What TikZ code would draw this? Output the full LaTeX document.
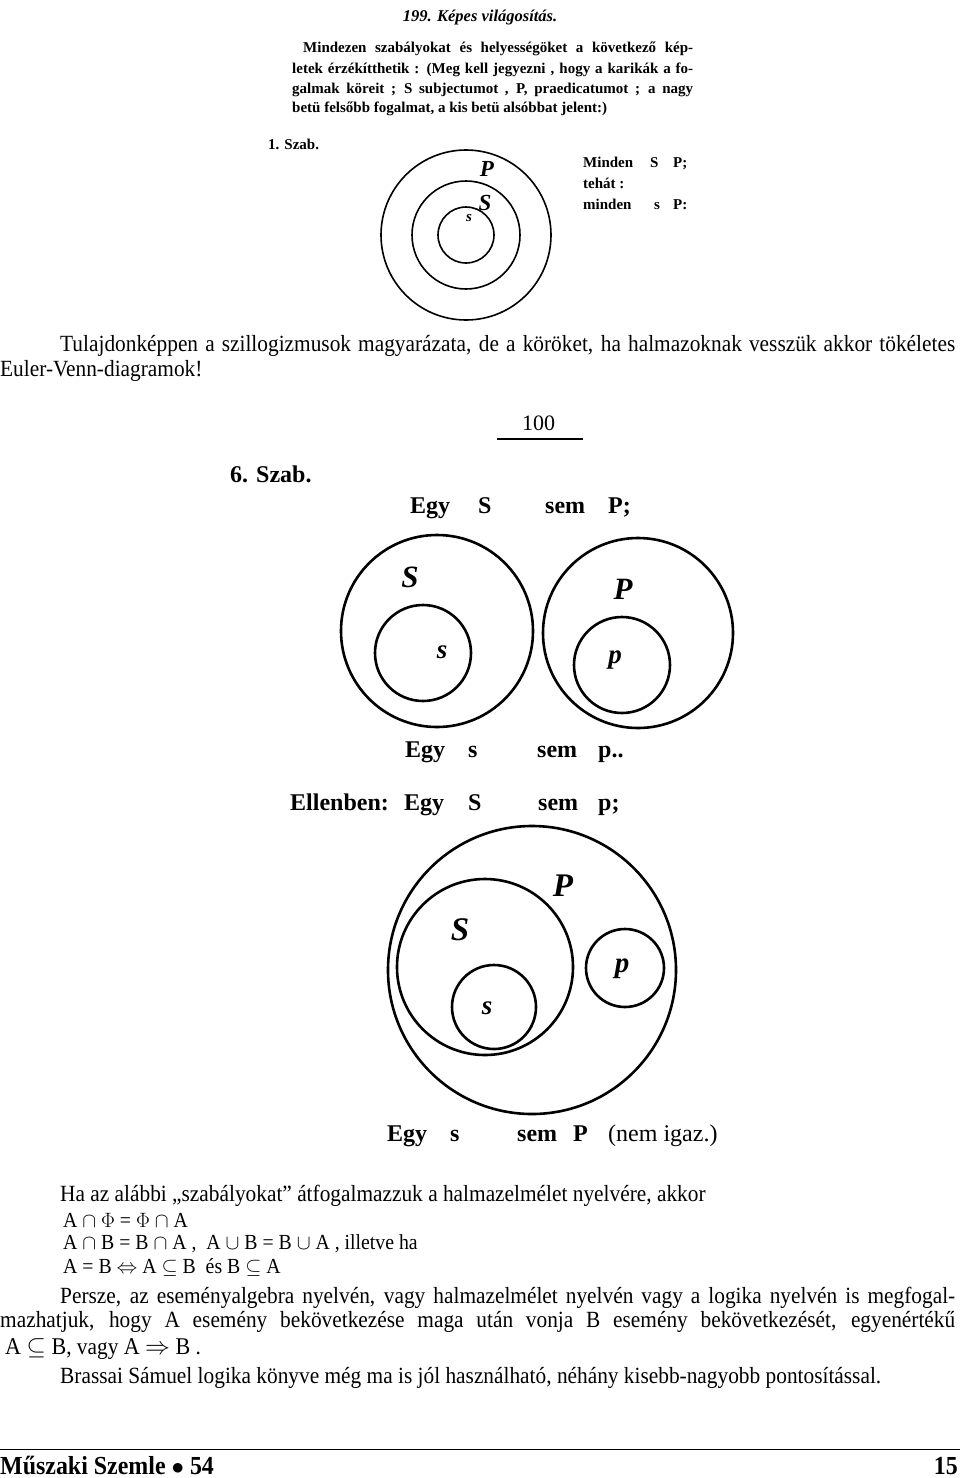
\documentclass[tikz,border=0pt]{standalone}
\usepackage{fontspec}
\setmainfont{Liberation Serif}
\newfontfamily\narrowfont[FakeStretch=0.92]{Liberation Serif}
\usetikzlibrary{positioning}

\begin{document}
\begin{tikzpicture}
  [x=1pt,y=-1pt,
   ring/.style={draw, circle, inner sep=0pt, outer sep=0pt, line width=2.6pt},
   thinring/.style={draw, circle, inner sep=0pt, outer sep=0pt, line width=1.6pt},
   old/.style={anchor=base west, inner sep=0pt, font=\bfseries\fontsize{15}{18}\selectfont},
   big/.style={anchor=base west, inner sep=0pt, font=\bfseries\fontsize{24}{26}\selectfont},
   body/.style={anchor=base west, inner sep=0pt, text height=15pt, text depth=4pt,
     font=\narrowfont\fontsize{23.2}{26}\selectfont},
   formula/.style={anchor=base west, inner sep=0pt, text height=14pt, text depth=4pt,
     font=\narrowfont\fontsize{21.5}{24}\selectfont},
   lab/.style={inner sep=0pt, font=\bfseries\itshape\fontsize{#1}{#1}\selectfont}]
  \fill[white] (0,0) rectangle (960,1478);
  \useasboundingbox (0,0) rectangle (960,1478);
  % scanned page: 1. Szab.
  \node[old, anchor=base, font=\bfseries\itshape\fontsize{16.5}{18}\selectfont] (title) at (480,21) {199. Képes világosítás.};
  \node[old] (par1) at (303,52) {\makebox[390pt][s]{Mindezen szabályokat és helyességöket a következő kép-}};
  \node[old] (par2) at (292,73) {\makebox[401pt][s]{letek érzékítthetik : (Meg kell jegyezni , hogy a karikák a fo-}};
  \node[old] (par3) at (292,93) {\makebox[401pt][s]{galmak köreit ; S subjectumot , P, praedicatumot ; a nagy}};
  \node[old] (par4) at (292,112) {betü felsőbb fogalmat, a kis betü alsóbbat jelent:)};
  \node[old] (sz1) at (268,149) {1. Szab.};
  \node[thinring, minimum size=170pt] (bigP) at (466,235) {};
  \node[thinring, minimum size=108pt] (bigS) at (466,235) {};
  \node[thinring, minimum size=56pt] (smalls) at (466,235) {};
  \node[lab=23] (lP1) at (487,169) {P};
  \node[lab=23] (lS1) at (485,203) {S};
  \node[lab=15] (ls1) at (469,218) {s};
  \node[old] (m1) at (583,167) {\makebox[67pt][l]{Minden}\makebox[23pt][l]{S}P;};
  \node[old] (m2) at (583,188) {tehát :};
  \node[old] (m3) at (583,209) {\makebox[71pt][l]{minden}\makebox[19pt][l]{s}P:};
  % article text
  \node[body] (t1) at (60,351) {\makebox[895pt][s]{Tulajdonképpen a szillogizmusok magyarázata, de a köröket, ha halmazoknak vesszük akkor tökéletes}};
  \node[body] (t2) at (0,376) {Euler-Venn-diagramok!};
  % scanned page: 6. Szab.
  \node[big, font=\fontsize{22}{24}\selectfont] (pg) at (522,430) {100};
  \draw[line width=1.8pt] (497,439) -- (583,439);
  \node[big] (sz6) at (230,482) {6. Szab.};
  \node[big] (r1) at (410,513) {\makebox[68pt][l]{Egy}\makebox[67pt][l]{S}\makebox[63pt][l]{sem}P;};
  \node[ring, minimum size=192pt] (S2) at (437,631) {};
  \node[ring, minimum size=96pt] (s2) at (423,653) {};
  \node[ring, minimum size=190pt] (P2) at (638,633) {};
  \node[ring, minimum size=96pt] (p2) at (622,665) {};
  \node[lab=31] (lS2) at (410,577) {S};
  \node[lab=27] (ls2) at (442,652) {s};
  \node[lab=31] (lP2) at (623,589) {P};
  \node[lab=27] (lp2) at (615,660) {p};
  \node[big] (r2) at (405,757) {\makebox[63pt][l]{Egy}\makebox[69pt][l]{s}\makebox[61pt][l]{sem}p..};
  \node[big] (r3) at (290,810) {\makebox[114pt][l]{Ellenben:}\makebox[64pt][l]{Egy}\makebox[70pt][l]{S}\makebox[60pt][l]{sem}p;};
  \node[ring, minimum size=288pt] (P3) at (532,970) {};
  \node[ring, minimum size=176pt] (S3) at (485,967) {};
  \node[ring, minimum size=84pt] (s3) at (494,1007) {};
  \node[ring, minimum size=78pt] (p3) at (625,968) {};
  \node[lab=33] (lP3) at (563,886) {P};
  \node[lab=33] (lS3) at (460,930) {S};
  \node[lab=27] (ls3) at (487,1008) {s};
  \node[lab=29] (lp3) at (622,969) {p};
  \node[big] (r4) at (387,1141) {\makebox[63pt][l]{Egy}\makebox[67pt][l]{s}\makebox[56pt][l]{sem}\makebox[35pt][l]{P}\mdseries(nem igaz.)};
  % article text
  \node[body] (t3) at (60,1201) {Ha az alábbi „szabályokat” átfogalmazzuk a halmazelmélet nyelvére, akkor};
  \node[formula] (f1) at (63,1227) {A $\cap$ $\Phi$ = $\Phi$ $\cap$ A};
  \node[formula] (f2) at (63,1249) {A $\cap$ B = B $\cap$ A ,\ \ A $\cup$ B = B $\cup$ A , illetve ha};
  \node[formula] (f3) at (63,1273) {A = B $\Leftrightarrow$ A $\subseteq$ B \ és\ B $\subseteq$ A};
  \node[body] (t4) at (60,1303) {\makebox[895pt][s]{Persze, az eseményalgebra nyelvén, vagy halmazelmélet nyelvén vagy a logika nyelvén is megfogal-}};
  \node[body] (t5) at (0,1327) {\makebox[955pt][s]{mazhatjuk, hogy A esemény bekövetkezése maga után vonja B esemény bekövetkezését, egyenértékű}};
  \node[body] (t6) at (5,1354) {{\fontsize{24}{26}\selectfont A $\subseteq$ B}, vagy\ {\fontsize{24}{26}\selectfont A $\Rightarrow$ B} .};
  \node[body] (t7) at (60,1383) {Brassai Sámuel logika könyve még ma is jól használható, néhány kisebb-nagyobb pontosítással.};
  % footer
  \draw[line width=1pt] (0,1449) -- (960,1449);
  \node[body, font=\narrowfont\bfseries\fontsize{26}{28}\selectfont] (ft) at (0,1474) {Műszaki Szemle $\bullet$ 54};
  \node[body, anchor=base east, font=\narrowfont\bfseries\fontsize{26}{28}\selectfont] (pn) at (958,1474) {15};
\end{tikzpicture}
\end{document}
